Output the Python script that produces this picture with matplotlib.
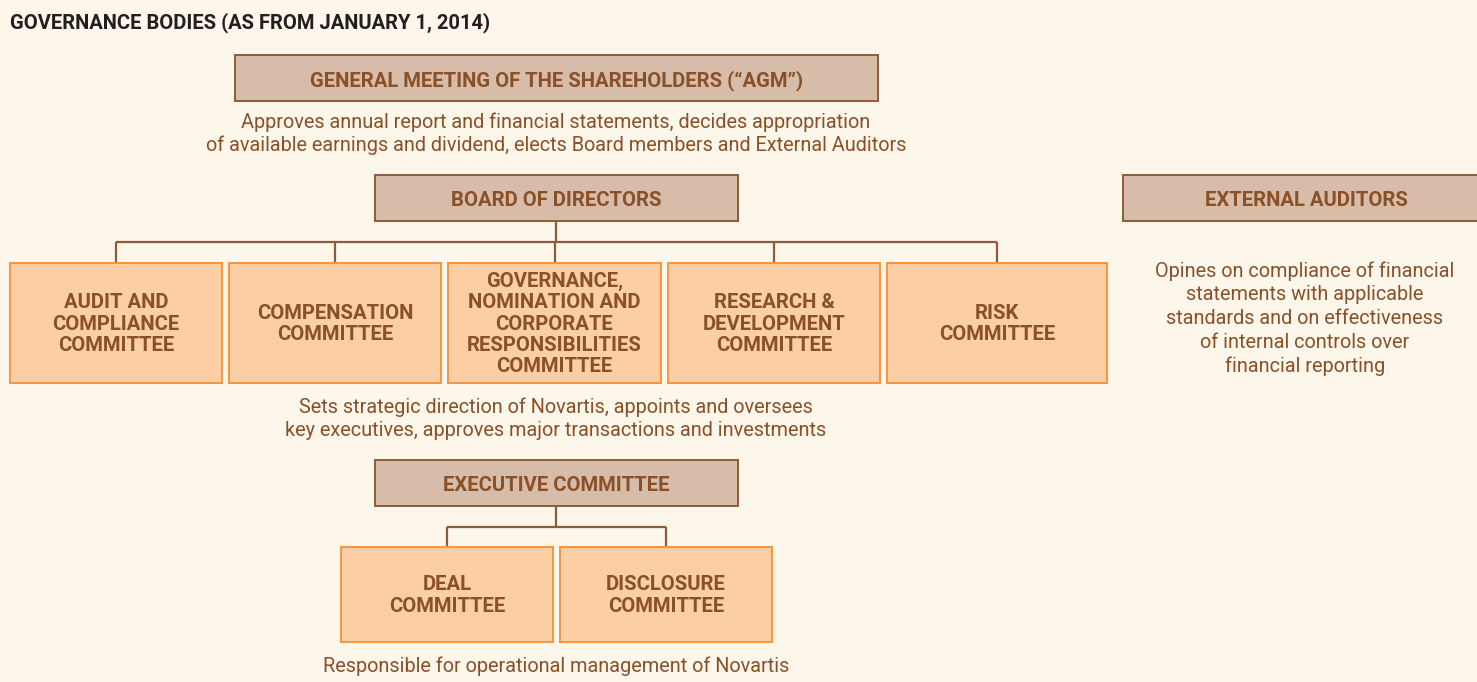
import matplotlib.pyplot as plt
from matplotlib.patches import Rectangle

plt.rcParams['font.family'] = ['Roboto', 'DejaVu Sans']

# texts of the chart
title = "GOVERNANCE BODIES (AS FROM JANUARY 1, 2014)"
agm = "GENERAL MEETING OF THE SHAREHOLDERS (\u201cAGM\u201d)"
agm_note = ["Approves annual report and financial statements, decides appropriation",
            "of available earnings and dividend, elects Board members and External Auditors"]
board = "BOARD OF DIRECTORS"
board_committees = ["AUDIT AND\nCOMPLIANCE\nCOMMITTEE",
                    "COMPENSATION\nCOMMITTEE",
                    "GOVERNANCE,\nNOMINATION AND\nCORPORATE\nRESPONSIBILITIES\nCOMMITTEE",
                    "RESEARCH &\nDEVELOPMENT\nCOMMITTEE",
                    "RISK\nCOMMITTEE"]
board_note = ["Sets strategic direction of Novartis, appoints and oversees",
              "key executives, approves major transactions and investments"]
auditors = "EXTERNAL AUDITORS"
auditors_note = ["Opines on compliance of financial", "statements with applicable",
                 "standards and on effectiveness", "of internal controls over",
                 "financial reporting"]
execu = "EXECUTIVE COMMITTEE"
exec_committees = ["DEAL\nCOMMITTEE", "DISCLOSURE\nCOMMITTEE"]
exec_note = ["Responsible for operational management of Novartis"]

bg = '#fdf6eb'
brown_fill = '#d7bca9'
brown_edge = '#8f5b3a'
orange_fill = '#fbcea4'
orange_edge = '#f7953e'
txt = '#8a5027'

W, H = 1477, 682
fig = plt.figure(figsize=(W / 100, H / 100), dpi=100, facecolor=bg)
ax = fig.add_axes([0, 0, 1, 1])
ax.set_xlim(0, W)
ax.set_ylim(H, 0)
ax.axis('off')
ax.set_facecolor(bg)


def box(x0, y0, x1, y1, label, kind, fs=14.6, ls=1.14):
    if kind == 'brown':
        fc, ec, off = brown_fill, brown_edge, 2.5
    else:
        fc, ec, off = orange_fill, orange_edge, 1
    ax.add_patch(Rectangle((x0, y0), x1 - x0, y1 - y0, facecolor=fc,
                           edgecolor=ec, lw=1.4, zorder=2))
    ax.text((x0 + x1) / 2, (y0 + y1) / 2 + off, label, ha='center', va='center',
            color=txt, fontsize=fs, fontweight='bold', linespacing=ls,
            zorder=3)


def note(xc, y0, lines, dy=22.5):
    for i, s in enumerate(lines):
        ax.text(xc, y0 + i * dy, s, ha='center', va='center', color=txt,
                fontsize=14.3, zorder=3)


def line(xs, ys):
    ax.plot(xs, ys, color=brown_edge, lw=1.6, solid_capstyle='butt', zorder=1)


ax.text(10, 23, title, ha='left', va='center', color='#231f20',
        fontsize=14.5, fontweight='bold')

box(235, 55, 878, 101, agm, 'brown')
note(556, 122.5, agm_note)

box(375, 175, 738, 221, board, 'brown')
box(1123, 175, 1490, 221, auditors, 'brown')
note(1305, 271, auditors_note, dy=23.7)

# board committees
cx = [(10, 222), (229, 441), (448, 661), (668, 880), (887, 1107)]
mids = [(a + b) / 2 for a, b in cx]
line([556, 556], [221, 242])
line([mids[0], mids[-1]], [242, 242])
for (a, b), lab in zip(cx, board_committees):
    m = (a + b) / 2
    line([m, m], [242, 263])
    box(a, 263, b, 383, lab, 'orange')
note(556, 407.5, board_note)

box(375, 460, 738, 506, execu, 'brown')
ex = [(341, 553), (560, 772)]
emids = [(a + b) / 2 for a, b in ex]
line([556, 556], [506, 527])
line([emids[0], emids[-1]], [527, 527])
for (a, b), lab in zip(ex, exec_committees):
    m = (a + b) / 2
    line([m, m], [527, 547])
    box(a, 547, b, 642, lab, 'orange')
note(556, 666, exec_note)

fig.savefig('out.png', dpi=100, facecolor=bg)
